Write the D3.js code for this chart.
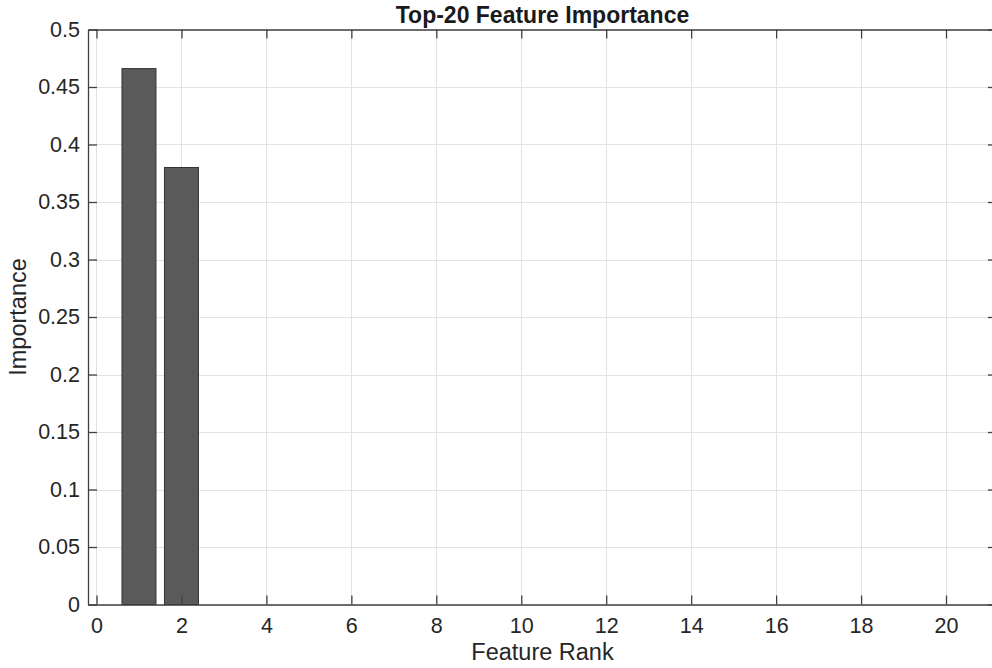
<!DOCTYPE html>
<html>
<head>
<meta charset="utf-8">
<script src="https://cdn.jsdelivr.net/npm/d3@7"></script>
<style>
  html, body { margin: 0; padding: 0; background: #fff; }
  svg { display: block; font-family: "Liberation Sans", Arial, Helvetica, sans-serif; }
</style>
</head>
<body>
<svg id="chart" width="992" height="668"></svg>
<script>
// Feature ranks and their importance scores (top 20)
const ranks = [1, 2, 3, 4, 5, 6, 7, 8, 9, 10, 11, 12, 13, 14, 15, 16, 17, 18, 19, 20];
const importance = [0.466, 0.380, 0, 0, 0, 0, 0, 0, 0, 0, 0, 0, 0, 0, 0, 0, 0, 0, 0, 0];
const xTicks = [0, 2, 4, 6, 8, 10, 12, 14, 16, 18, 20];
const yTicks = [0, 0.05, 0.1, 0.15, 0.2, 0.25, 0.3, 0.35, 0.4, 0.45, 0.5];
const titleText = "Top-20 Feature Importance";
const xLabel = "Feature Rank";
const yLabel = "Importance";

(function draw() {
  const svg = d3.select("#chart");
  const pLeft = 88, pRight = 997, pTop = 29.5, pBottom = 604.5;

  const x = d3.scaleLinear().domain([-0.2, 21.2]).range([pLeft, pRight]);
  const y = d3.scaleLinear().domain([0, 0.5]).range([pBottom, pTop]);
  const barWidth = 0.8;

  const axisColor = "#404040";
  const textColor = "#262626";
  const gridColor = "#e3e3e3";
  const tickLen = 9;
  const tickFont = 21.5;
  const labelFont = 23.5;

  // grid
  const grid = svg.append("g");
  grid.selectAll("line.gx").data(xTicks).join("line")
    .attr("x1", d => Math.round(x(d)) + 0.5).attr("x2", d => Math.round(x(d)) + 0.5)
    .attr("y1", pTop).attr("y2", pBottom)
    .attr("stroke", gridColor).attr("stroke-width", 1);
  grid.selectAll("line.gy").data(yTicks).join("line")
    .attr("y1", d => Math.round(y(d)) + 0.5).attr("y2", d => Math.round(y(d)) + 0.5)
    .attr("x1", pLeft).attr("x2", pRight)
    .attr("stroke", gridColor).attr("stroke-width", 1);

  // bars
  svg.append("g").selectAll("rect").data(ranks).join("rect")
    .attr("x", d => x(d - barWidth / 2))
    .attr("width", d => x(d + barWidth / 2) - x(d - barWidth / 2))
    .attr("y", (d, i) => y(importance[i]))
    .attr("height", (d, i) => y(0) - y(importance[i]))
    .attr("fill", "#5a5a5a")
    .attr("stroke", "#333333")
    .attr("stroke-width", 1);

  // axes (box with inward ticks on all sides)
  const xAxisB = d3.axisBottom(x).tickValues(xTicks).tickSizeInner(-tickLen).tickSizeOuter(0).tickPadding(13).tickFormat(d3.format("d"));
  const xAxisT = d3.axisTop(x).tickValues(xTicks).tickSizeInner(-tickLen).tickSizeOuter(0).tickFormat("");
  const yAxisL = d3.axisLeft(y).tickValues(yTicks).tickSizeInner(-tickLen).tickSizeOuter(0).tickPadding(8).tickFormat(d => d3.format("~g")(d));
  const yAxisR = d3.axisRight(y).tickValues(yTicks).tickSizeInner(-tickLen).tickSizeOuter(0).tickFormat("");

  function style(g) {
    g.select(".domain").attr("stroke", axisColor).attr("stroke-width", 1.3);
    g.selectAll(".tick line").attr("stroke", axisColor).attr("stroke-width", 1.3);
    g.selectAll(".tick text").attr("fill", textColor).attr("font-size", tickFont)
      .attr("font-family", "Liberation Sans, Arial, sans-serif");
  }

  svg.append("g").attr("transform", `translate(0,${pBottom})`).call(xAxisB).call(style);
  svg.append("g").attr("transform", `translate(0,${pTop})`).call(xAxisT).call(style);
  svg.append("g").attr("transform", `translate(${pLeft},0)`).call(yAxisL).call(style);
  svg.append("g").attr("transform", `translate(${pRight},0)`).call(yAxisR).call(style);

  // title and axis labels
  svg.append("text").attr("x", (pLeft + pRight) / 2).attr("y", 23)
    .attr("text-anchor", "middle").attr("font-size", 23).attr("font-weight", "bold")
    .attr("fill", "#1a1a1a").text(titleText);
  svg.append("text").attr("x", (pLeft + pRight) / 2).attr("y", 660)
    .attr("text-anchor", "middle").attr("font-size", labelFont)
    .attr("fill", textColor).text(xLabel);
  svg.append("text").attr("transform", `translate(26,${(pTop + pBottom) / 2}) rotate(-90)`)
    .attr("text-anchor", "middle").attr("font-size", labelFont)
    .attr("fill", textColor).text(yLabel);
})();
</script>
</body>
</html>
